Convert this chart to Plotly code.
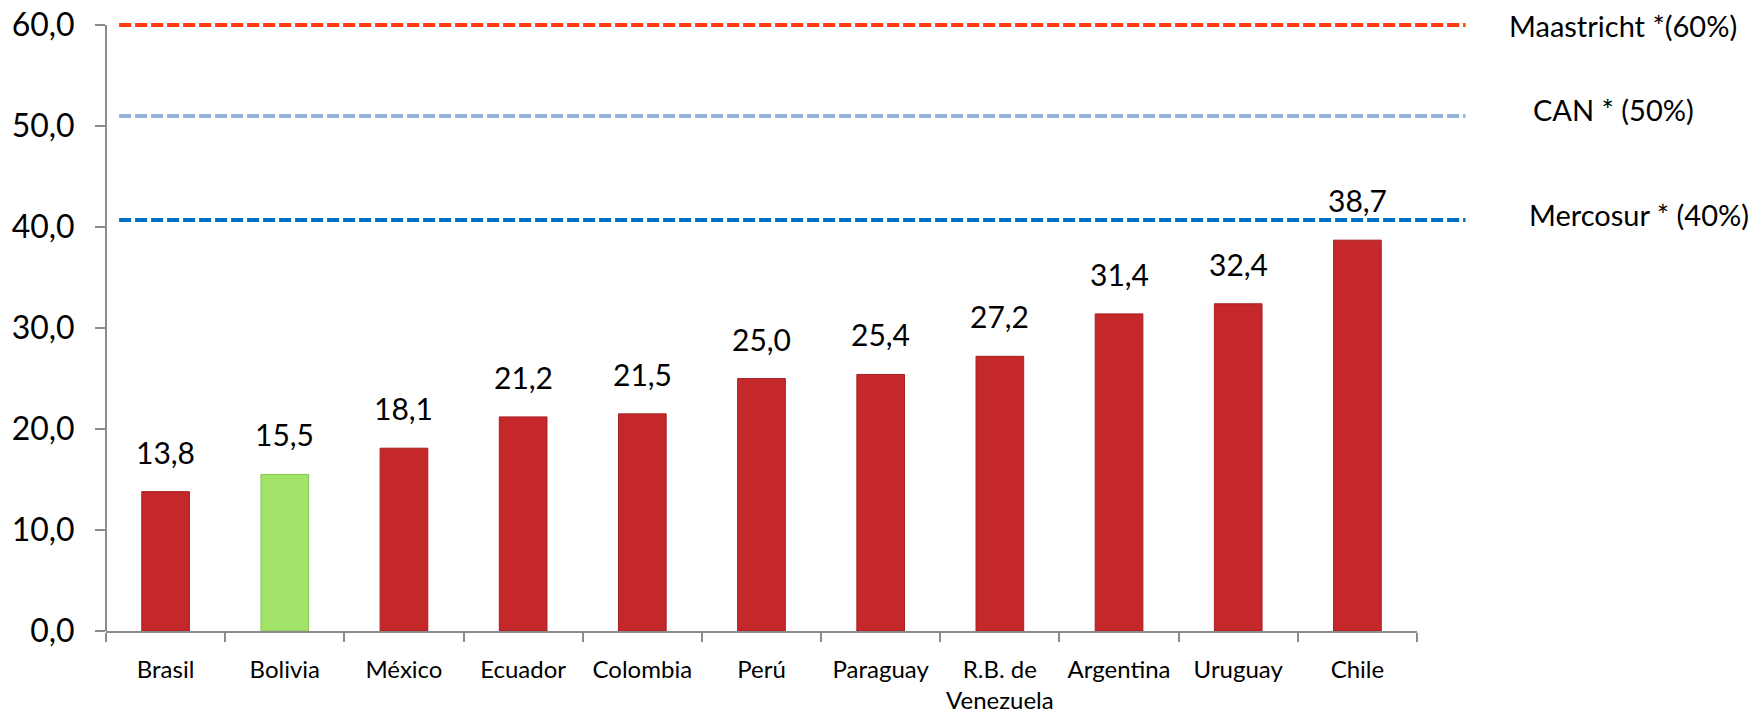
import plotly.graph_objects as go

countries = ["Brasil", "Bolivia", "México", "Ecuador", "Colombia", "Perú",
             "Paraguay", "R.B. de<br>Venezuela", "Argentina", "Uruguay", "Chile"]
values = [13.8, 15.5, 18.1, 21.2, 21.5, 25.0, 25.4, 27.2, 31.4, 32.4, 38.7]
value_labels = ["13,8", "15,5", "18,1", "21,2", "21,5", "25,0", "25,4", "27,2", "31,4", "32,4", "38,7"]
highlight = "Bolivia"

limit_names = ["Maastricht *(60%)", "CAN * (50%)", "Mercosur * (40%)"]
limit_values = [60.0, 51.0, 40.7]
limit_colors = ["#FF3A0C", "#95B3D7", "#0070C0"]

ytick_vals = [0, 10, 20, 30, 40, 50, 60]
ytick_text = ["0,0", "10,0", "20,0", "30,0", "40,0", "50,0", "60,0"]

W, H = 1764, 717
FONT = "Lato, 'Open Sans', sans-serif"
AXIS_GRAY = "#8C8C8C"

bar_colors = ["#A2E46A" if c == highlight else "#C4282B" for c in countries]
line_colors = ["#86C650" if c == highlight else "#A81F22" for c in countries]

fig = go.Figure()
fig.add_trace(go.Bar(
    x=countries, y=values,
    marker=dict(color=bar_colors, line=dict(color=line_colors, width=1)),
    hoverinfo="x+y",
))

# y-axis line drawn from the bottom tick to the top tick
shapes = [dict(type="line", xref="paper", yref="y", x0=0, x1=0,
               y0=ytick_vals[0], y1=ytick_vals[-1],
               line=dict(color=AXIS_GRAY, width=2), layer="above")]
annotations = []
for v, col in zip(limit_values, limit_colors):
    shapes.append(dict(type="line", xref="paper", yref="y",
                       x0=0.01, x1=1.037, y0=v, y1=v,
                       line=dict(color=col, width=4, dash="12px,4px"), layer="above"))
label_x = [1.157, 1.150, 1.169]
label_shift = [0, 6, 5]
for name, v, lx, sh in zip(limit_names, limit_values, label_x, label_shift):
    annotations.append(dict(xref="paper", yref="y", x=lx, y=v, text=name,
                            showarrow=False, xanchor="center", yanchor="middle",
                            yshift=sh,
                            font=dict(family=FONT, size=29, color="#000000")))

for c, v, t in zip(countries, values, value_labels):
    annotations.append(dict(x=c, y=v, text=t, showarrow=False, xanchor="center",
                            yanchor="bottom", yshift=20,
                            font=dict(family=FONT, size=30, color="#000000")))

fig.update_layout(
    width=W, height=H,
    margin=dict(l=106, r=347, t=20, b=86),
    paper_bgcolor="white", plot_bgcolor="white",
    showlegend=False,
    bargap=0.6,
    shapes=shapes,
    annotations=annotations,
    xaxis=dict(
        showline=True, linecolor=AXIS_GRAY, linewidth=2,
        ticks="outside", tickson="boundaries", ticklen=9, tickcolor=AXIS_GRAY, tickwidth=2,
        tickfont=dict(family=FONT, size=24, color="#000000"),
        tickangle=0, automargin=False,
        showgrid=False, zeroline=False, ticklabelstandoff=16,
    ),
    yaxis=dict(
        range=[0, 60.5],
        tickvals=ytick_vals, ticktext=ytick_text,
        showline=False,
        ticks="outside", ticklen=10, tickcolor=AXIS_GRAY, tickwidth=2,
        tickfont=dict(family=FONT, size=32, color="#000000"),
        automargin=False,
        showgrid=False, zeroline=False, ticklabelstandoff=14,
    ),
)

fig.write_html("out.html", config={"displayModeBar": False},
               post_script="document.body.style.margin='0';document.body.style.overflow='hidden';")
